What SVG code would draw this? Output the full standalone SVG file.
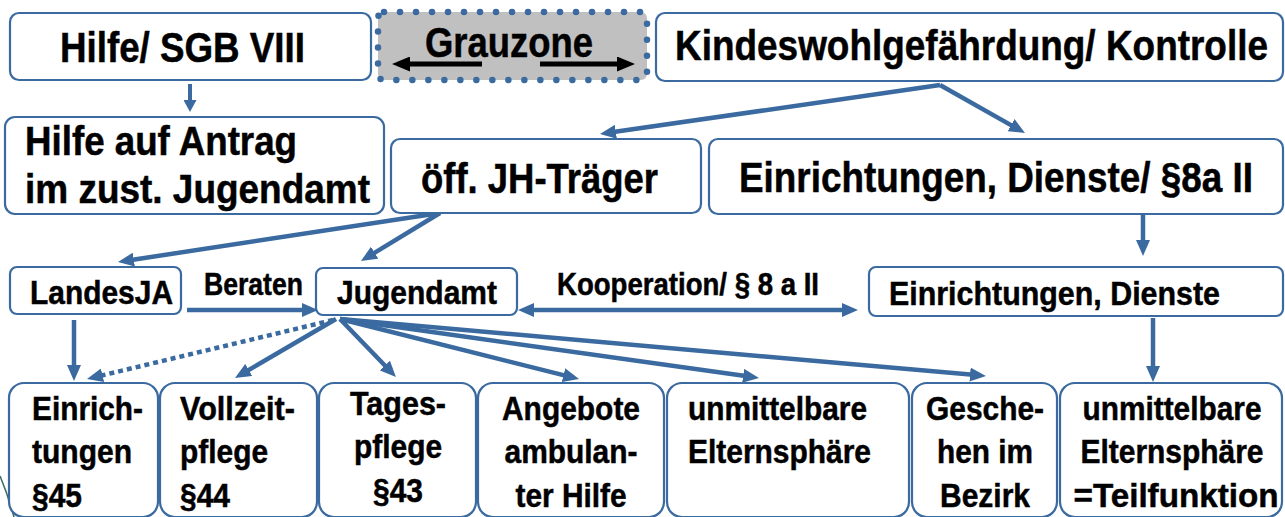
<svg xmlns="http://www.w3.org/2000/svg" width="1285" height="517" viewBox="0 0 1285 517">
<defs>
<style>
.box{fill:#ffffff;stroke:#3a6a9f;stroke-width:2.2}
.t{font-family:"Liberation Sans",Arial,sans-serif;font-weight:bold;fill:#000000;stroke:#000000;stroke-width:0.5}
.t42{font-size:42px}
.t40{font-size:40px}
.t34{font-size:34px}
.t31{font-size:31px}
.c{stroke:#3a6a9f;stroke-width:4.5;fill:none;marker-end:url(#ah)}
.k{stroke:#000000;stroke-width:5;fill:none;marker-end:url(#ahK)}
</style>
<marker id="ah" markerUnits="userSpaceOnUse" markerWidth="16" markerHeight="14" refX="6" refY="7" orient="auto-start-reverse" viewBox="0 0 16 14">
<path d="M0,0 L16,7 L0,14 z" fill="#3a6a9f"/>
</marker>
<marker id="ahS" markerUnits="userSpaceOnUse" markerWidth="12" markerHeight="13" refX="4" refY="6.5" orient="auto" viewBox="0 0 12 13">
<path d="M0,0 L12,6.5 L0,13 z" fill="#3a6a9f"/>
</marker>
<marker id="ahK" markerUnits="userSpaceOnUse" markerWidth="18" markerHeight="15" refX="8" refY="7.5" orient="auto" viewBox="0 0 18 15">
<path d="M0,0 L18,7.5 L0,15 z" fill="#000000"/>
</marker>
</defs>
<rect x="0" y="0" width="1285" height="517" fill="#ffffff"/>
<path d="M0,476 Q8,495 14,517" stroke="#3d6e60" stroke-width="1.6" fill="none"/>

<g id="connectors">
<line x1="190" y1="84" x2="190" y2="104" stroke="#3a6a9f" stroke-width="4" marker-end="url(#ahS)"/>
<line class="c" x1="940" y1="85" x2="609.9" y2="132.6"/>
<line class="c" x1="940" y1="85" x2="1016.3" y2="128.1"/>
<line class="c" x1="1143" y1="215" x2="1143" y2="246"/>
<line class="c" x1="440" y1="213" x2="127.9" y2="260.5"/>
<line class="c" x1="440" y1="213" x2="369.5" y2="255.8"/>
<line class="c" x1="187" y1="310" x2="308" y2="310"/>
<line class="c" x1="528" y1="310" x2="848" y2="310" marker-start="url(#ah)"/>
<line class="c" x1="74" y1="320" x2="74" y2="371"/>
<line class="c" x1="333" y1="320" x2="96.7" y2="376.7" stroke-dasharray="5 4"/>
<line class="c" x1="336" y1="319" x2="243.6" y2="373"/>
<line class="c" x1="340" y1="319" x2="389" y2="369.8"/>
<line class="c" x1="340" y1="319" x2="569.3" y2="376.6"/>
<line class="c" x1="340" y1="319" x2="749.1" y2="376.6"/>
<line class="c" x1="340" y1="319" x2="976" y2="375.1"/>
<line class="c" x1="1153" y1="318" x2="1153" y2="372"/>
</g>

<g id="n-hilfe">
<rect class="box" x="10" y="13" width="361" height="67" rx="9"/>
<text class="t t42" x="60" y="62" textLength="245" lengthAdjust="spacingAndGlyphs">Hilfe/ SGB VIII</text>
</g>
<g id="n-grauzone">
<rect x="378" y="12" width="269" height="68" rx="6" fill="#c0c0c0" stroke="#3a6a9f" stroke-width="6.5" stroke-dasharray="0 16" stroke-linecap="round"/>
<text class="t t42" x="425" y="57" textLength="168" lengthAdjust="spacingAndGlyphs">Grauzone</text>
<line class="k" x1="482" y1="64" x2="402" y2="64"/>
<line class="k" x1="540" y1="64" x2="625" y2="64"/>
</g>
<g id="n-kindeswohl">
<rect class="box" x="656" y="13" width="627" height="68" rx="9"/>
<text class="t t42" x="675" y="60" textLength="593" lengthAdjust="spacingAndGlyphs">Kindeswohlgefährdung/ Kontrolle</text>
</g>
<g id="n-antrag">
<rect class="box" x="5" y="117" width="379" height="97" rx="10"/>
<text class="t t40" x="25" y="155" textLength="272" lengthAdjust="spacingAndGlyphs">Hilfe auf Antrag</text>
<text class="t t40" x="25" y="203" textLength="345" lengthAdjust="spacingAndGlyphs">im zust. Jugendamt</text>
</g>
<g id="n-oeff">
<rect class="box" x="391" y="139" width="310" height="74" rx="9"/>
<text class="t t42" x="421" y="193" textLength="237" lengthAdjust="spacingAndGlyphs">öff. JH-Träger</text>
</g>
<g id="n-einr8a">
<rect class="box" x="709" y="139" width="574" height="75" rx="9"/>
<text class="t t42" x="739" y="192" textLength="514" lengthAdjust="spacingAndGlyphs">Einrichtungen, Dienste/ §8a II</text>
</g>
<g id="n-landesja">
<rect class="box" x="10" y="267" width="171" height="47" rx="7"/>
<text class="t t34" x="30" y="304" textLength="143" lengthAdjust="spacingAndGlyphs">LandesJA</text>
</g>
<g id="l-beraten">
<text class="t t31" x="204" y="295" textLength="99" lengthAdjust="spacingAndGlyphs">Beraten</text>
</g>
<g id="n-jugendamt">
<rect class="box" x="316" y="268" width="201" height="47" rx="7"/>
<text class="t t34" x="337" y="304" textLength="160" lengthAdjust="spacingAndGlyphs">Jugendamt</text>
</g>
<g id="l-kooperation">
<text class="t t31" x="557" y="295" textLength="262" lengthAdjust="spacingAndGlyphs">Kooperation/ § 8 a II</text>
</g>
<g id="n-einrD">
<rect class="box" x="869" y="267" width="414" height="49" rx="7"/>
<text class="t t34" x="889" y="305" textLength="331" lengthAdjust="spacingAndGlyphs">Einrichtungen, Dienste</text>
</g>

<g id="n-b45">
<rect class="box" x="9" y="383" width="149" height="134" rx="15"/>
<text class="t t34" x="32" y="420" textLength="111" lengthAdjust="spacingAndGlyphs">Einrich-</text>
<text class="t t34" x="32" y="463" textLength="100" lengthAdjust="spacingAndGlyphs">tungen</text>
<text class="t t34" x="32" y="507" textLength="50" lengthAdjust="spacingAndGlyphs">§45</text>
</g>
<g id="n-b44">
<rect class="box" x="160" y="383" width="157" height="134" rx="15"/>
<text class="t t34" x="180" y="420" textLength="115" lengthAdjust="spacingAndGlyphs">Vollzeit-</text>
<text class="t t34" x="180" y="463" textLength="88" lengthAdjust="spacingAndGlyphs">pflege</text>
<text class="t t34" x="180" y="507" textLength="50" lengthAdjust="spacingAndGlyphs">§44</text>
</g>
<g id="n-b43">
<rect class="box" x="319" y="383" width="157" height="134" rx="15"/>
<text class="t t34" x="398" y="415" text-anchor="middle" textLength="96" lengthAdjust="spacingAndGlyphs">Tages-</text>
<text class="t t34" x="398" y="458" text-anchor="middle" textLength="88" lengthAdjust="spacingAndGlyphs">pflege</text>
<text class="t t34" x="398" y="502" text-anchor="middle" textLength="50" lengthAdjust="spacingAndGlyphs">§43</text>
</g>
<g id="n-amb">
<rect class="box" x="478" y="383" width="186" height="134" rx="15"/>
<text class="t t34" x="571" y="420" text-anchor="middle" textLength="138" lengthAdjust="spacingAndGlyphs">Angebote</text>
<text class="t t34" x="571" y="463" text-anchor="middle" textLength="133" lengthAdjust="spacingAndGlyphs">ambulan-</text>
<text class="t t34" x="571" y="507" text-anchor="middle" textLength="111" lengthAdjust="spacingAndGlyphs">ter Hilfe</text>
</g>
<g id="n-eltern">
<rect class="box" x="667" y="383" width="242" height="134" rx="15"/>
<text class="t t34" x="688" y="420" textLength="179" lengthAdjust="spacingAndGlyphs">unmittelbare</text>
<text class="t t34" x="688" y="463" textLength="183" lengthAdjust="spacingAndGlyphs">Elternsphäre</text>
</g>
<g id="n-bezirk">
<rect class="box" x="912" y="383" width="145" height="134" rx="15"/>
<text class="t t34" x="985" y="420" text-anchor="middle" textLength="118" lengthAdjust="spacingAndGlyphs">Gesche-</text>
<text class="t t34" x="985" y="463" text-anchor="middle" textLength="96" lengthAdjust="spacingAndGlyphs">hen im</text>
<text class="t t34" x="985" y="507" text-anchor="middle" textLength="90" lengthAdjust="spacingAndGlyphs">Bezirk</text>
</g>
<g id="n-teil">
<rect class="box" x="1060" y="383" width="222" height="134" rx="15"/>
<text class="t t34" x="1172" y="420" text-anchor="middle" textLength="179" lengthAdjust="spacingAndGlyphs">unmittelbare</text>
<text class="t t34" x="1172" y="463" text-anchor="middle" textLength="183" lengthAdjust="spacingAndGlyphs">Elternsphäre</text>
<text class="t t34" x="1176" y="507" text-anchor="middle" textLength="205" lengthAdjust="spacingAndGlyphs">=Teilfunktion</text>
</g>
</svg>
